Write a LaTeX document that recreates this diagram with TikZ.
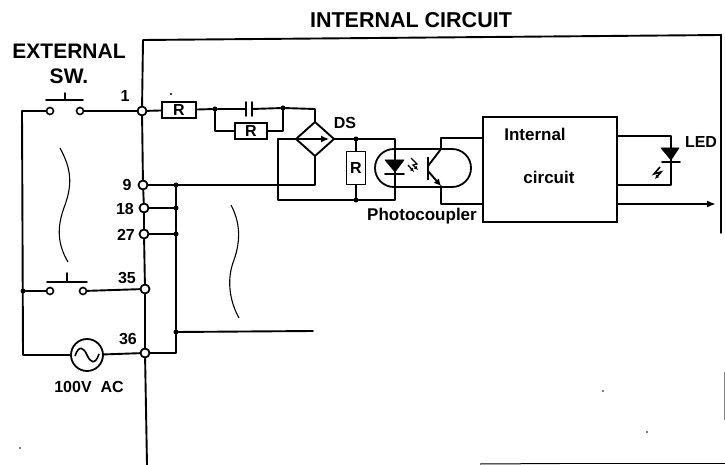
\documentclass[tikz,border=0pt]{standalone}
\usepackage{fontspec}
\setmainfont{Liberation Sans}
\usetikzlibrary{arrows.meta}
\tikzset{
  x=1pt,y=-1pt,
  wire/.style={line width=1.9pt,line cap=round,line join=round},
  thinwire/.style={line width=1pt},
  term/.style={circle,draw,line width=1.8pt,fill=white,minimum size=9pt,inner sep=0pt},
  smallterm/.style={circle,draw,line width=1.6pt,fill=white,minimum size=7pt,inner sep=0pt},
  jn/.style={circle,fill=black,minimum size=5pt,inner sep=0pt},
  res/.style={draw,line width=1.8pt,fill=white,inner sep=0pt,font=\bfseries\fontsize{16}{16}\selectfont},
  lbl/.style={font=\bfseries\fontsize{16}{18}\selectfont,inner sep=0pt},
  big/.style={font=\bfseries\fontsize{21}{25}\selectfont,inner sep=0pt,align=center},
  diode/.style={fill=black,draw=black,line width=.6pt,line join=round},
  squig/.style={line width=1.1pt},
}
\begin{document}
\begin{tikzpicture}
\useasboundingbox (0,0) rectangle (725,465);
% terminals
\node[term] (t1) at (142,111) {};
\node[term] (t9) at (143,185) {};
\node[term] (t18) at (144,208) {};
\node[term] (t27) at (144,234) {};
\node[term] (t35) at (145,289) {};
\node[term] (t36) at (145,353) {};
% frame
\coordinate (fa) at (147,465); \coordinate (fb) at (143,40); \coordinate (fc) at (721,35); \coordinate (fd) at (721,233);
\draw[wire] (t1) -- (fb) -- (fc) -- (fd);
\coordinate (ba) at (480,464); \coordinate (bm) at (560,463.5); \coordinate (bb) at (725,463.5);
\draw[thinwire] (ba) -- (bm);
\draw[line width=1.8pt] (bm) -- (bb);
\draw[gray,line width=.7pt] (724.5,372) -- (724.5,420);
\draw[wire] (t1) -- (t9);
\draw[wire] (t9) -- (t18);
\draw[wire] (t18) -- (t27);
\draw[wire] (t27) -- (t35);
\draw[wire] (t35) -- (t36);
\draw[wire] (t36) -- (fa);
% switches
\node[smallterm] (s1a) at (50,111) {};
\node[smallterm] (s1b) at (80,111) {};
\node[smallterm] (s2a) at (50,291) {};
\node[smallterm] (s2b) at (83,291) {};
\draw[wire] (46,100) -- (83,100) (65,93) -- (65,100);
\draw[wire] (47,282) -- (87,282) (67,273) -- (67,282);
\coordinate (lt) at (22,111);
\coordinate (lb) at (23,355);
\node[jn] (j35) at (23,291) {};
\node[circle,draw,line width=1.8pt,minimum size=32pt,inner sep=0pt] (ac) at (87,355) {};
\draw[line width=1.6pt] (75,356) .. controls (79,344) and (84,348) .. (87,355) .. controls (90,362) and (95,366) .. (99,354);
\draw[wire] (s1a) -- (lt) -- (lb) -- (ac);
\draw[wire] (j35) -- (s2a);
\draw[wire] (s1b) -- (t1);
\draw[wire] (s2b) -- (t35);
\draw[wire] (ac) -- (t36);
% upstream network
\node[res,minimum width=34pt,minimum height=16pt] (r1) at (179,110) {R};
\node[jn] (j1) at (215,109) {};
\node[jn] (j2) at (283,108) {};
\node[res,minimum width=32pt,minimum height=16pt] (r2) at (251,131) {R};
\coordinate (ca) at (246,109); \coordinate (cb) at (252,109);
\draw[wire] (t1) -- (r1);
\draw[wire] (r1) -- (j1) -- (ca);
\draw[wire] (246,102) -- (246,116) (252,102) -- (252,116);
\draw[wire] (cb) -- (j2);
\coordinate (d1) at (215,131); \coordinate (d2) at (283,131);
\draw[wire] (j1) -- (d1) -- (r2);
\draw[wire] (r2) -- (d2) -- (j2);
% bridge
\coordinate (dt) at (315,122); \coordinate (dl) at (296,139); \coordinate (db) at (315,156); \coordinate (dr) at (334,139);
\draw[wire] (dt) -- (dl) -- (db) -- (dr) -- cycle;
\draw[line width=1.3pt,-{Latex[length=8pt,width=7pt]}] (dl) -- (329,139);
\coordinate (dtop) at (315,109);
\draw[wire] (j2) -- (dtop) -- (dt);
\node[jn] (j3) at (356,139) {};
\node[jn] (j4) at (356,200) {};
\coordinate (e1) at (278,139); \coordinate (e2) at (278,200);
\draw[wire] (dl) -- (e1) -- (e2) -- (j4);
\draw[wire] (dr) -- (j3);
\coordinate (f1) at (315,185);
\draw[wire] (db) -- (f1) -- (t9);
% common rail
\node[jn] (j9) at (176,185) {};
\node[jn] (j18) at (176,208) {};
\node[jn] (j27) at (176,234) {};
\node[jn] (j32) at (176,332) {};
\coordinate (rb) at (176,353);
\coordinate (rend) at (313,331);
\draw[wire] (t18) -- (j18);
\draw[wire] (t27) -- (j27);
\draw[wire] (j9) -- (j18) -- (j27) -- (j32) -- (rb) -- (t36);
\draw[wire] (j32) -- (rend);
% R3
\node[res,minimum width=19pt,minimum height=33pt] (r3) at (356,168) {R};
\draw[wire] (j3) -- (r3) -- (j4);
% photocoupler
\node[draw,line width=1.8pt,rounded corners=18.9pt,minimum width=96pt,minimum height=38pt,inner sep=0pt] (pcb) at (423,168) {};
\coordinate (la) at (395,139); \coordinate (lc) at (395,200);
\draw[wire] (j3) -- (la) -- (lc) -- (j4);
\draw[diode] (385,160) -- (404,160) -- (395,172) -- cycle;
\draw[wire] (385,174) -- (404,174);
\draw[line width=1.3pt,-{Latex[length=4pt,width=4pt]}] (411,158) -- (417,164) -- (413,165) -- (418,170);
\draw[line width=1.3pt,-{Latex[length=4pt,width=4pt]}] (408,165) -- (414,172);
\draw[line width=2.6pt] (428,157) -- (428,180);
\draw[wire] (428,166) -- (441,149);
\draw[wire,-{Latex[length=7pt,width=7pt]}] (428,171) -- (441,186);
% block
\node[draw,line width=1.9pt,minimum width=134pt,minimum height=105pt,inner sep=0pt] (blk) at (550,169.5) {};
\coordinate (c1) at (441,138); \coordinate (c2) at (441,149);
\coordinate (g1) at (441,186); \coordinate (g2) at (441,204);
\draw[wire] (c2) -- (c1) -- (blk.west |- c1);
\draw[wire] (g1) -- (g2) -- (blk.west |- g2);
\node[lbl,font=\bfseries\fontsize{17}{18}\selectfont] (in) at (535,134) {Internal};
\node[lbl,font=\bfseries\fontsize{17}{18}\selectfont] (ci) at (549,177) {circuit};
% LED
\coordinate (l1) at (671,136); \coordinate (l2) at (671,185);
\draw[wire] (blk.east |- l1) -- (l1) -- (l2) -- (blk.east |- l2);
\draw[diode] (661,148) -- (679,148) -- (671,160) -- cycle;
\draw[wire] (662,162) -- (680,162);
\draw[line width=1.6pt,-{Latex[length=4pt,width=4pt]}] (660,167) -- (654,174) -- (661,172) -- (655,179);
% output
\coordinate (oe) at (716,204);
\draw[wire,-{Latex[length=9pt,width=7pt]}] (blk.east |- oe) -- (oe);
% labels
\node[big,font=\bfseries\fontsize{21.5}{25}\selectfont] (title) at (411,20) {INTERNAL CIRCUIT};
\node[big] (ext) at (69,63.5) {EXTERNAL\\SW.};
\node[lbl] (n1) at (125,96) {1};
\node[lbl] (n9) at (127,185) {9};
\node[lbl] (n18) at (125,209) {18};
\node[lbl] (n27) at (126,235) {27};
\node[lbl] (n35) at (127,278) {35};
\node[lbl] (n36) at (128,339) {36};
\node[lbl] (vac) at (89,387) {100V\ \ AC};
\node[lbl] (ds) at (345,123) {DS};
\node[lbl] (led) at (701,142) {LED};
\node[lbl,font=\bfseries\fontsize{17}{18}\selectfont] (pc) at (422,216) {Photocoupler};
% break marks
\draw[squig] (60,148) .. controls (72,170) and (72,185) .. (65,205) .. controls (56,228) and (58,245) .. (68,262);
\draw[squig] (231,205) .. controls (240,222) and (241,240) .. (234,260) .. controls (226,280) and (230,302) .. (239,318);
\fill (171,94) circle (1.2pt);
\fill (603,391) circle (.8pt);
\fill (647,432) circle (.8pt);
\fill (20,448) circle (.8pt);
\end{tikzpicture}
\end{document}
